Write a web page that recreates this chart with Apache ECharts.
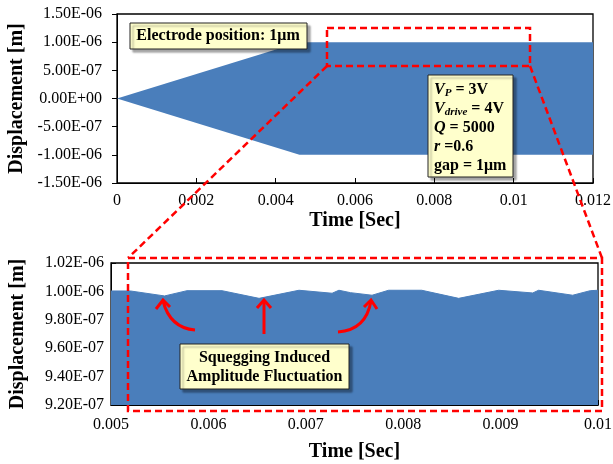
<!DOCTYPE html>
<html>
<head>
<meta charset="UTF-8">
<title>squegging-displacement</title>
<script src="https://cdn.jsdelivr.net/npm/echarts@6/dist/echarts.min.js"></script>
<style type="text/css">
html, body { margin: 0; padding: 0; background: #fff; }
#main { width: 613px; height: 464px; }
</style>
</head>
<body>
<div id="main"></div>
<script type="text/javascript">
// top panel: amplitude envelope over the whole run
var envTime = [0, 0.0046, 0.012];
var envUpper = [0, 1.0e-6, 1.0e-6];
var envLower = [0, -1.0e-6, -1.0e-6];

// bottom panel: zoom of the upper envelope (squegging dips)
var zoomTime = [0.005, 0.0052, 0.00555, 0.00578, 0.00614, 0.00652, 0.00693, 0.00727, 0.00734,
  0.00746, 0.00768, 0.00785, 0.00819, 0.00857, 0.00898, 0.00933, 0.00939, 0.00974, 0.00992, 0.01];
var zoomAmp = [1.0003e-6, 1.0003e-6, 0.9968e-6, 1.0005e-6, 1.0005e-6, 0.9951e-6, 1.0008e-6, 0.9987e-6, 1.0008e-6,
  0.9991e-6, 0.9973e-6, 1.0008e-6, 1.0008e-6, 0.9951e-6, 1.0008e-6, 0.9989e-6, 1.0008e-6, 0.9973e-6, 1.0005e-6, 1.0008e-6];

var serif = "'Liberation Serif', 'DejaVu Serif', serif";
var blue = '#4a7ebb';
var red = '#ff0000';

// excel style 1.50E-06
function sci(v) {
	if (Math.abs(v) < 1e-15) v = 0;
	var m = v.toExponential(2).split('e');
	var e = parseInt(m[1], 10);
	var a = Math.abs(e);
	return m[0] + 'E' + (e < 0 ? '-' : '+') + (a < 10 ? '0' : '') + a;
}

function pairs(xs, ys) {
	var out = [];
	for (var i = 0; i < xs.length; i++) out.push([xs[i], ys[i]]);
	return out;
}

// whole envelope as one polygon: upper edge forward, lower edge back
function renderBand(params, api) {
	if (params.dataIndex !== 0) return null;
	var pts = [];
	for (var i = 0; i < envTime.length; i++) pts.push(api.coord([envTime[i], envUpper[i]]));
	for (var j = envTime.length - 1; j >= 0; j--) pts.push(api.coord([envTime[j], envLower[j]]));
	return { type: 'polygon', shape: { points: pts }, style: { fill: blue, stroke: null, lineWidth: 0 } };
}

var lbl = { color: '#000', fontFamily: serif, fontSize: 16 };
var nameTxt = { color: '#000', fontFamily: serif, fontSize: 20, fontWeight: 'bold' };
var axLine = { onZero: false, lineStyle: { color: '#000', width: 1 } };

var boxStyle = {
	fill: '#ffffcc', stroke: '#222', lineWidth: 1,
	shadowBlur: 2, shadowOffsetX: 3, shadowOffsetY: 3, shadowColor: 'rgba(0,0,0,0.35)'
};
var dash = { stroke: red, lineWidth: 2.5, lineDash: [7, 4], fill: null };
var arrow = { stroke: red, lineWidth: 3, fill: null };
var bold16 = { fontFamily: serif, fontSize: 16, fontWeight: 'bold', fill: '#000' };

var option = {
	animation: false,
	grid: [
		{ left: 117, top: 14, right: 20, bottom: 281, show: true, borderColor: '#000', borderWidth: 1.3, outerBoundsMode: 'none' },
		{ left: 111, top: 263, right: 15, bottom: 59, show: true, borderColor: '#000', borderWidth: 1.3, outerBoundsMode: 'none' }
	],
	xAxis: [
		{
			type: 'value', gridIndex: 0, min: 0, max: 0.012, interval: 0.002,
			name: 'Time [Sec]', nameLocation: 'middle', nameGap: 28, nameTextStyle: nameTxt,
			axisLine: axLine, axisTick: { inside: true, length: 5, lineStyle: { color: '#000' } },
			axisLabel: Object.assign({ margin: 10 }, lbl), splitLine: { show: false }
		},
		{
			type: 'value', gridIndex: 1, min: 0.005, max: 0.01, interval: 0.001,
			name: 'Time [Sec]', nameLocation: 'middle', nameGap: 37, nameTextStyle: nameTxt,
			axisLine: axLine, axisTick: { inside: true, length: 5, lineStyle: { color: '#000' } },
			axisLabel: Object.assign({ margin: 12 }, lbl), splitLine: { show: false }
		}
	],
	yAxis: [
		{
			type: 'value', gridIndex: 0, min: -1.5e-6, max: 1.5e-6, interval: 5e-7,
			name: 'Displacement [m]', nameLocation: 'middle', nameGap: 89, nameTextStyle: nameTxt,
			axisLine: { show: true, onZero: false, lineStyle: { color: '#000' } },
			axisTick: { show: true, length: 5, lineStyle: { color: '#000' } },
			axisLabel: Object.assign({ margin: 15, formatter: sci }, lbl), splitLine: { show: false }
		},
		{
			type: 'value', gridIndex: 1, min: 9.2e-7, max: 1.02e-6, interval: 2e-8,
			name: 'Displacement [m]', nameLocation: 'middle', nameGap: 83, nameTextStyle: nameTxt,
			axisLine: { show: true, onZero: false, lineStyle: { color: '#000' } },
			axisTick: { show: true, inside: true, length: 5, lineStyle: { color: '#000' } },
			axisLabel: Object.assign({ margin: 7, formatter: sci }, lbl), splitLine: { show: false }
		}
	],
	series: [
		{
			type: 'custom', xAxisIndex: 0, yAxisIndex: 0, clip: true, silent: true,
			data: pairs(envTime, envUpper), renderItem: renderBand
		},
		{
			type: 'line', xAxisIndex: 1, yAxisIndex: 1, showSymbol: false, silent: true,
			data: pairs(zoomTime, zoomAmp), lineStyle: { color: blue, width: 1 },
			areaStyle: { color: blue, opacity: 1, origin: 'start' }
		}
	],
	graphic: [
		// text boxes
		{ type: 'rect', z: 100, shape: { x: 130, y: 23, width: 177, height: 26 }, style: boxStyle },
		{ type: 'text', z: 101, style: Object.assign({ text: 'Electrode position: 1\u03bcm', x: 218, y: 36, align: 'center', verticalAlign: 'middle' }, bold16) },
		{ type: 'rect', z: 100, shape: { x: 428, y: 75, width: 85, height: 102 }, style: boxStyle },
		{
			type: 'text', z: 101,
			style: {
				x: 434, y: 80, align: 'left', verticalAlign: 'top',
				text: '{i|V}{s|P}{n| = 3V}\n{i|V}{s|drive}{n| = 4V}\n{i|Q}{n| = 5000}\n{i|r}{n| =0.6}\n{n|gap = 1\u03bcm}',
				fill: '#000', fontFamily: serif, fontSize: 16, fontWeight: 'bold', lineHeight: 19,
				rich: {
					i: { fontFamily: serif, fontSize: 16, fontWeight: 'bold', fontStyle: 'italic', lineHeight: 19 },
					s: { fontFamily: serif, fontSize: 11, fontWeight: 'bold', fontStyle: 'italic', lineHeight: 19, padding: [8, 0, 0, 0] },
					n: { fontFamily: serif, fontSize: 16, fontWeight: 'bold', lineHeight: 19 }
				}
			}
		},
		{ type: 'rect', z: 100, shape: { x: 180, y: 344, width: 169, height: 45 }, style: boxStyle },
		{ type: 'text', z: 101, style: Object.assign({ text: 'Squegging Induced\nAmplitude Fluctuation', x: 264.5, y: 367, align: 'center', verticalAlign: 'middle', lineHeight: 19 }, bold16) },
		// zoom marker
		{ type: 'rect', z: 110, shape: { x: 327, y: 28, width: 203, height: 38 }, style: dash },
		{ type: 'rect', z: 110, shape: { x: 128, y: 258, width: 474, height: 153 }, style: dash },
		{ type: 'line', z: 110, shape: { x1: 327, y1: 66, x2: 128, y2: 258 }, style: dash },
		{ type: 'line', z: 110, shape: { x1: 530, y1: 66, x2: 602, y2: 258 }, style: dash },
		// arrows
		{ type: 'bezierCurve', z: 110, shape: { x1: 195, y1: 330, x2: 163, y2: 301, cpx1: 170, cpy1: 328 }, style: arrow },
		{ type: 'polyline', z: 110, shape: { points: [[156, 309], [163, 300], [170, 307]] }, style: arrow },
		{ type: 'line', z: 110, shape: { x1: 264, y1: 334, x2: 264, y2: 301 }, style: arrow },
		{ type: 'polyline', z: 110, shape: { points: [[257, 308], [264, 300], [271, 308]] }, style: arrow },
		{ type: 'bezierCurve', z: 110, shape: { x1: 338, y1: 332, x2: 371, y2: 301, cpx1: 366, cpy1: 330 }, style: arrow },
		{ type: 'polyline', z: 110, shape: { points: [[364, 307], [371, 300], [377, 309]] }, style: arrow }
	]
};

var myChart = echarts.init(document.getElementById('main'));
myChart.setOption(option);
</script>
</body>
</html>
